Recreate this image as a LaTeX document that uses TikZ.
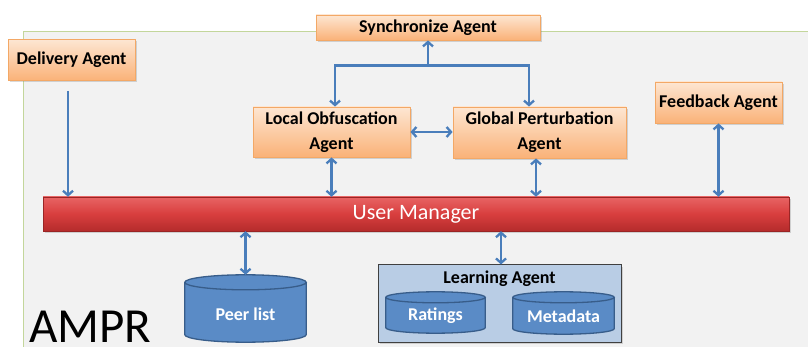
\documentclass[tikz,border=0pt]{standalone}
\usepackage{fontspec}
\setmainfont{Carlito}
\usetikzlibrary{arrows.meta,calc,shadows}

\definecolor{panelfill}{HTML}{F2F2F2}
\definecolor{panelline}{HTML}{C3D69B}
\definecolor{agenttop}{HTML}{FDE6D2}
\definecolor{agentbot}{HTML}{FAB278}
\definecolor{agentline}{HTML}{F3A866}
\definecolor{bartop}{HTML}{E86464}
\definecolor{barmid}{HTML}{D83E3E}
\definecolor{barbot}{HTML}{B52C2C}
\definecolor{arrowblue}{HTML}{4A7EBB}
\definecolor{dbfill}{HTML}{4F81BD}
\definecolor{dbtop}{HTML}{5A8BC6}
\definecolor{dbline}{HTML}{385D8A}
\definecolor{groupfill}{HTML}{B9CDE5}

\tikzset{
  agent/.style={rectangle, draw=agentline, line width=0.8pt,
    top color=agenttop, bottom color=agentbot,
    font=\fontsize{18}{20}\selectfont\bfseries, text=black, align=center,
    drop shadow={shadow xshift=1.5pt, shadow yshift=-2pt, opacity=0.3}},
  dbframe/.style={rectangle, inner sep=0pt},
  dblabel/.style={font=\fontsize{18}{20}\selectfont\bfseries, text=white, inner sep=1pt},
  dbline/.style={draw=dbline, line width=1.3pt},
  link/.style={draw=arrowblue, line width=2.3pt,
    {Straight Barb[length=4.5pt,width=10pt]}-{Straight Barb[length=4.5pt,width=10pt]}},
  oneway/.style={draw=arrowblue, line width=2.3pt, -{Straight Barb[length=4.5pt,width=10pt]}}
}

% cylinder drawn inside the frame of node #1, with end ellipses of vertical radius #2
\newcommand\dbcylinder[2]{%
  \path let \p1=(#1.north west), \p2=(#1.south east), \n1={(\x2-\x1)/2} in
    [dbline, fill=dbfill]
      (\x1,\y1-#2) -- (\x1,\y2+#2)
      arc[start angle=180, end angle=360, x radius=\n1, y radius=#2]
      -- (\x2,\y1-#2)
      arc[start angle=0, end angle=180, x radius=\n1, y radius=#2] -- cycle
    [dbline, fill=dbtop]
      (\x1,\y1-#2) arc[start angle=180, end angle=540, x radius=\n1, y radius=#2];
}

\begin{document}
\begin{tikzpicture}[x=1pt, y=-1pt]
  \useasboundingbox (0,0) rectangle (808,347);

  % system panel
  \path[fill=panelfill, draw=panelline, line width=1pt]
    (23,347) -- (23,32) -- (808,32);
  \path[fill=panelfill] (23.5,32.5) rectangle (808,347);

  % agents
  \node[agent, minimum width=127pt, minimum height=41pt] (delivery) at (71.5,60) {Delivery Agent};
  \node[agent, minimum width=224pt, minimum height=25pt, inner sep=1pt] (sync) at (428,27.5) {Synchronize Agent};
  \node[agent, minimum width=157pt, minimum height=50pt, inner sep=1pt] (local) at (331.5,132) {Local Obfuscation\\[5pt]Agent};
  \node[agent, minimum width=173pt, minimum height=51pt, inner sep=1pt] (global) at (539.5,132.5) {Global Perturbation\\[5pt]Agent};
  \node[agent, minimum width=127pt, minimum height=41pt] (feedback) at (718.5,102.5) {Feedback Agent};

  % user manager bar
  \node[rectangle, minimum width=746pt, minimum height=34pt,
    top color=bartop, bottom color=barbot, middle color=barmid,
    draw=barbot!85!black, line width=0.4pt,
    drop shadow={shadow xshift=1.5pt, shadow yshift=-2.5pt, opacity=0.3},
    font=\fontsize{22}{24}\selectfont, text=white] (um) at (416,214) {User Manager};

  % peer list store
  \node[dbframe, minimum width=121pt, minimum height=67pt] (peer) at (245.5,308.5) {};
  \dbcylinder{peer}{7.5pt}
  \node[dblabel] (peerlabel) at (245.5,314) {Peer list};

  % learning agent with its two stores
  \node[rectangle, draw=black!75, line width=1pt, fill=groupfill,
    minimum width=243pt, minimum height=77pt,
    drop shadow={shadow xshift=1.5pt, shadow yshift=-2pt, opacity=0.3}] (learning) at (499.5,303.5) {};
  \node[font=\fontsize{18}{20}\selectfont\bfseries] (learnlabel) at (499.5,278.5) {Learning Agent};

  \node[dbframe, minimum width=99pt, minimum height=41pt] (ratings) at (435.5,312.5) {};
  \dbcylinder{ratings}{5.5pt}
  \node[dblabel] (ratingslabel) at (435.5,316) {Ratings};

  \node[dbframe, minimum width=101pt, minimum height=42pt] (metadata) at (563.5,313) {};
  \dbcylinder{metadata}{5.5pt}
  \node[dblabel] (metadatalabel) at (563.5,316.5) {Metadata};

  % system name
  \node[anchor=base west, font=\fontsize{49}{55}\selectfont, inner sep=0pt] (ampr) at (29,342) {AMPR};

  % connectors
  \coordinate (deliverystart) at ([xshift=-3.5pt, yshift=-10pt]delivery.south);
  \draw[oneway] (deliverystart) -- (deliverystart |- um.north);

  \coordinate (syncjoint) at ([yshift=-25pt]sync.south);
  \draw[oneway] (syncjoint) -- (sync.south);
  \draw[oneway] (syncjoint) -| ([xshift=3.5pt]local.north);
  \draw[oneway] (syncjoint) -| ([xshift=-10.5pt]global.north);

  \draw[link] (local.east) -- (global.west |- local.east);
  \draw[link] (local.south) -- (local.south |- um.north);
  \draw[link] ([xshift=-3.5pt]global.south) -- ([xshift=-3.5pt]global.south |- um.north);
  \draw[link] (feedback.south) -- (feedback.south |- um.north);
  \draw[link] (peer.north) -- (peer.north |- um.south);
  \draw[link] ([xshift=1.5pt]learning.north) -- ([xshift=1.5pt]learning.north |- um.south);
\end{tikzpicture}
\end{document}
